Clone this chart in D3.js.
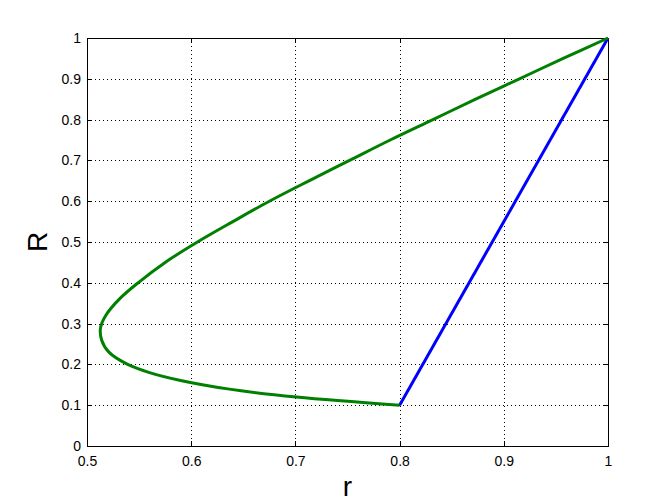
<!DOCTYPE html>
<html>
<head>
<meta charset="utf-8">
<script src="https://cdn.jsdelivr.net/npm/d3@7"></script>
<style>
  body { margin: 0; background: #fff; }
  text { font-family: "Liberation Sans", Arial, sans-serif; }
</style>
</head>
<body>
<svg width="672" height="504"></svg>
<script>
var svg = d3.select('svg');

// values
var greenR = [0.10, 0.12, 0.14, 0.16, 0.18, 0.20, 0.23, 0.26, 0.29, 0.32, 0.36, 0.40,
              0.45, 0.50, 0.55, 0.60, 0.65, 0.70, 0.75, 0.80, 0.85, 0.90, 0.95, 1.00];
var greenr = [0.800, 0.701, 0.635, 0.591, 0.560, 0.539, 0.521, 0.514, 0.513, 0.518, 0.531, 0.549,
              0.575, 0.606, 0.640, 0.675, 0.713, 0.752, 0.791, 0.832, 0.873, 0.915, 0.957, 1.000];
var bluer = [0.8, 1.0];
var blueR = [0.1, 1.0];

var xTicks = [0.5, 0.6, 0.7, 0.8, 0.9, 1];
var yTicks = [0, 0.1, 0.2, 0.3, 0.4, 0.5, 0.6, 0.7, 0.8, 0.9, 1];

var plotL = 87, plotR = 608, plotT = 38, plotB = 446;

svg.append("rect")
    .attr("width", "100%")
    .attr("height", "100%")
    .attr("fill", "#fff");

var x = d3.scaleLinear().domain([0.5, 1]).range([plotL, plotR]);
var y = d3.scaleLinear().domain([0, 1]).range([plotB, plotT]);

// dotted grid
var grid = svg.append("g")
    .attr("stroke", "#000")
    .attr("stroke-width", 1)
    .attr("stroke-dasharray", "1,3")
    .attr("shape-rendering", "crispEdges");

grid.selectAll(".gx")
    .data(xTicks.slice(1, -1))
    .enter()
    .append("line")
    .attr("x1", function(d) { return Math.round(x(d)) + 0.5; })
    .attr("x2", function(d) { return Math.round(x(d)) + 0.5; })
    .attr("y1", plotT)
    .attr("y2", plotB);

grid.selectAll(".gy")
    .data(yTicks.slice(1, -1))
    .enter()
    .append("line")
    .attr("y1", function(d) { return Math.round(y(d)) + 0.5; })
    .attr("y2", function(d) { return Math.round(y(d)) + 0.5; })
    .attr("x1", plotL)
    .attr("x2", plotR);

// axes, ticks inward on all four sides
function styleAxis(g) {
    g.select(".domain").remove();
    g.selectAll("line").attr("stroke", "#000").attr("shape-rendering", "crispEdges");
    g.selectAll("text")
        .attr("font-size", "14px")
        .attr("fill", "#000");
}

svg.append("g")
    .attr("transform", "translate(0," + plotB + ")")
    .call(d3.axisBottom(x).tickValues(xTicks).tickFormat(d3.format("")).tickSizeInner(-5).tickPadding(10))
    .call(styleAxis);

svg.append("g")
    .attr("transform", "translate(0," + plotT + ")")
    .call(d3.axisTop(x).tickValues(xTicks).tickSizeInner(-5).tickFormat(""))
    .call(styleAxis);

svg.append("g")
    .attr("transform", "translate(" + plotL + ",0)")
    .call(d3.axisLeft(y).tickValues(yTicks).tickFormat(d3.format("")).tickSizeInner(-5).tickPadding(6))
    .call(styleAxis);

svg.append("g")
    .attr("transform", "translate(" + plotR + ",0)")
    .call(d3.axisRight(y).tickValues(yTicks).tickSizeInner(-5).tickFormat(""))
    .call(styleAxis);

// box
svg.append("rect")
    .attr("x", plotL + 0.5)
    .attr("y", plotT + 0.5)
    .attr("width", plotR - plotL)
    .attr("height", plotB - plotT)
    .attr("fill", "none")
    .attr("stroke", "#000")
    .attr("stroke-width", 1.5)
    .attr("shape-rendering", "crispEdges");

// curves
var line = d3.line()
    .x(function(d) { return x(d[0]); })
    .y(function(d) { return y(d[1]); });

svg.append("path")
    .datum(bluer.map(function(v, i) { return [v, blueR[i]]; }))
    .attr("d", line)
    .attr("fill", "none")
    .attr("stroke", "#0000ff")
    .attr("stroke-width", 3);

svg.append("path")
    .datum(greenr.map(function(v, i) { return [v, greenR[i]]; }))
    .attr("d", line.curve(d3.curveCatmullRom.alpha(0.5)))
    .attr("fill", "none")
    .attr("stroke", "#008000")
    .attr("stroke-width", 3);

// axis labels
svg.append("text")
    .attr("x", (plotL + plotR) / 2)
    .attr("y", 496)
    .attr("text-anchor", "middle")
    .attr("font-size", "28px")
    .text("r");

svg.append("text")
    .attr("transform", "translate(47," + (plotT + plotB) / 2 + ") rotate(-90)")
    .attr("text-anchor", "middle")
    .attr("font-size", "28px")
    .text("R");
</script>
</body>
</html>
